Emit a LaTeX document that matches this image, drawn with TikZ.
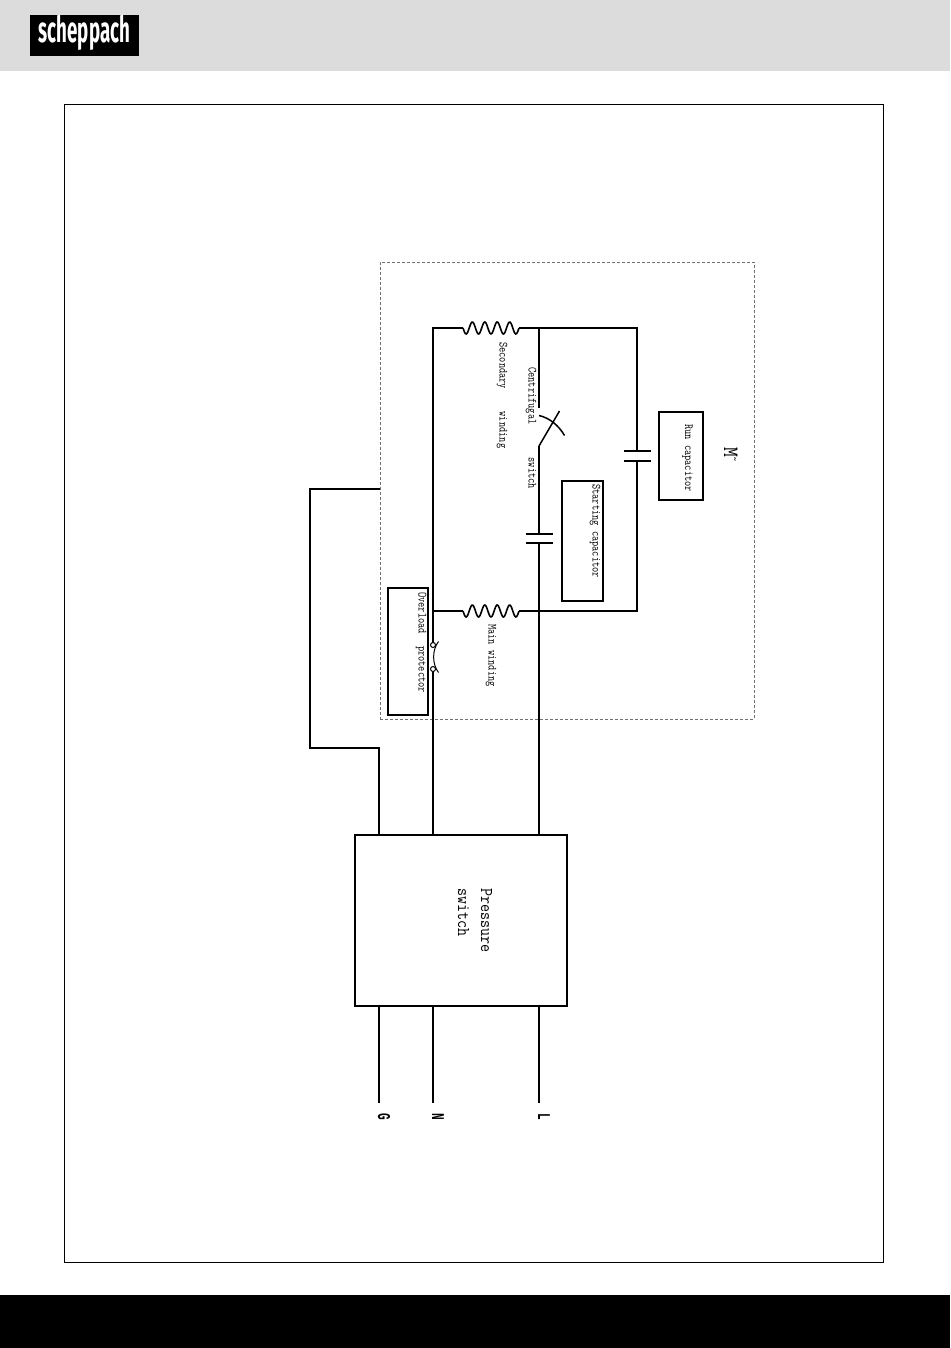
\documentclass[tikz,border=0pt]{standalone}
\usepackage{fontspec}
\newfontfamily\termfont{Liberation Mono}
\newfontfamily\logofont{Fira Sans}
\definecolor{headgray}{HTML}{DCDCDC}
\definecolor{motorgray}{HTML}{707070}
\tikzset{
	wire/.style={line width=1.8pt},
	plate/.style={line width=1.8pt},
	boxnode/.style={draw,line width=1.8pt,inner sep=0pt,outer sep=0pt},
	lbl/.style={rotate=-90,xscale=.81,transform shape,anchor=base west,inner sep=0pt,font=\ttfamily\fontsize{12.5}{12.5}\selectfont},
}
\begin{document}
\begin{tikzpicture}[x=1pt,y=-1pt]
	\useasboundingbox (0,0) rectangle (950,1348);
	\fill[headgray] (0,0) rectangle (950,71);
	\fill[black] (0,1295) rectangle (950,1348);
	\node[fill=black,minimum width=109pt,minimum height=41pt,inner sep=0pt] (logo) at (84.5,35.5) {};
	\node[text=white,xscale=.52,transform shape,inner sep=0pt,font=\logofont\bfseries\fontsize{36}{36}\selectfont] (logotext) at (84.5,33) {scheppach};
	\draw[line width=1pt] (64.5,104.5) rectangle (883.5,1262);

	% motor housing
	\node[draw=motorgray,densely dashed,line width=.6pt,minimum width=374pt,minimum height=457pt,inner sep=0pt,outer sep=0pt] (motor) at (567,490.5) {};

	% boxes
	\node[boxnode,minimum width=212pt,minimum height=171pt] (psw) at (461,920.5) {};
	\node[boxnode,minimum width=44pt,minimum height=88pt] (runbox) at (681,456) {};
	\node[boxnode,minimum width=41pt,minimum height=120pt] (startbox) at (582.5,541) {};
	\node[boxnode,minimum width=40pt,minimum height=127pt] (ovlbox) at (408,651.5) {};

	% terminals
	\foreach \x/\label in {379/G,433/N,539/L} {
		\coordinate (term\label) at (\x,1103);
		\node[rotate=-90,xscale=.62,transform shape,anchor=base,inner sep=0pt,font=\termfont\bfseries\fontsize{18}{18}\selectfont] (name\label) at (\x-1,1117) {\label};
		\draw[wire] (term\label) -- (term\label |- psw.south);
	}

	% windings
	\foreach \w/\yy in {sec/328,main/611} {
		\coordinate (\w A) at (463,\yy);
		\coordinate (\w B) at (519,\yy);
		\draw[line width=1.6pt,domain=0:1,samples=70,smooth,variable=\t] plot ({463+56*\t},{\yy+6*sin(1620*\t)});
	}

	% capacitors
	\foreach \c/\x/\ya/\yb in {crun/637/451/461,cstart/539/534/543} {
		\coordinate (\c A) at (\x,\ya);
		\coordinate (\c B) at (\x,\yb);
		\draw[plate] (\x-13.5,\ya) -- (\x+13.5,\ya);
		\draw[plate] (\x-13.5,\yb) -- (\x+13.5,\yb);
	}

	% centrifugal switch
	\coordinate (swtop) at (539,408);
	\coordinate (swlow) at (539,446);
	\coordinate (swblade) at (559.5,411);
	\draw[line width=1.5pt] (swlow) -- (swblade);
	\draw[line width=1.5pt] (539,415.5) .. controls (550,418) and (559,426) .. (564.5,435.5);

	% overload protector
	\coordinate (ovlA) at (433,645);
	\coordinate (ovlB) at (433,669);
	\draw[line width=1pt] (438.5,641.5) .. controls (432,650) and (432,664) .. (438.5,672.5);

	% wiring
	\coordinate (secT) at (539,328);
	\coordinate (runT) at (637,328);
	\coordinate (runL) at (637,611);
	\coordinate (mainL) at (539,611);
	\coordinate (nT) at (433,328);
	\coordinate (nM) at (433,611);
	\coordinate (gndA) at (310,489);
	\coordinate (gndB) at (310,748);
	\coordinate (gndC) at (379,748);
	\draw[wire] (termN |- psw.north) -- (ovlB);
	\draw[wire] (ovlA) -- (nT) -- (secA);
	\draw[wire] (nM) -- (mainA);
	\draw[wire] (secB) -- (runT) -- (crunA);
	\draw[wire] (crunB) -- (runL) -- (mainB);
	\draw[wire] (secT) -- (swtop);
	\draw[wire] (swlow) -- (cstartA);
	\draw[wire] (cstartB) -- (termL |- psw.north);
	\draw[wire] (motor.west |- gndA) -- (gndA) -- (gndB) -- (gndC) -- (gndC |- psw.north);
	\filldraw[fill=white,line width=1pt] (ovlA) circle (2.5pt);
	\filldraw[fill=white,line width=1pt] (ovlB) circle (2.5pt);

	% labels
	\node[lbl] (seclabel) at (499.5,342) {Secondary\hspace{28pt}winding};
	\node[lbl] (cenlabel) at (528.5,367) {Centrifugal\hspace{41pt}switch};
	\node[lbl] (startlabel) at (592.5,484) {Starting capacitor};
	\node[lbl] (runlabel) at (685,424) {Run capacitor};
	\node[lbl] (ovllabel) at (418.5,592) {Overload\hspace{15pt}protector};
	\node[lbl] (mainlabel) at (488.5,624) {Main winding};
	\node[lbl,xscale=1.07,font=\ttfamily\fontsize{22}{22}\selectfont] (mlabel) at (724,447) {M{\fontsize{13}{13}\selectfont\raisebox{7pt}{\textasciitilde}}};
	\node[lbl,xscale=1.07,align=left,font=\ttfamily\fontsize{18}{23}\selectfont] (pswlabel) at (458,888) {Pressure\\switch};
\end{tikzpicture}
\end{document}
